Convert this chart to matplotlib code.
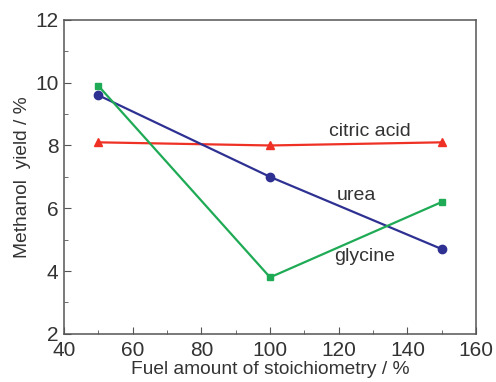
import matplotlib
matplotlib.use("Agg")
import matplotlib.pyplot as plt
from matplotlib.ticker import MultipleLocator

plt.rcParams['font.family'] = ['Liberation Sans', 'DejaVu Sans']

fuel = [50, 100, 150]
citric_acid = [8.1, 8.0, 8.1]
urea = [9.6, 7.0, 4.7]
glycine = [9.9, 3.8, 6.2]

red = '#ee3124'
blue = '#2e3192'
green = '#1faa55'
axis_gray = '#555555'
text_gray = '#333333'

fig = plt.figure(figsize=(4.96, 3.82), dpi=100)
ax = fig.add_axes([0.129, 0.126, 0.831, 0.822])

ax.plot(fuel, citric_acid, color=red, marker='^', markersize=6, linewidth=1.6)
ax.plot(fuel, urea, color=blue, marker='o', markersize=6, linewidth=1.6)
ax.plot(fuel, glycine, color=green, marker='s', markersize=5, linewidth=1.6)

# curve labels
ax.text(129, 8.45, 'citric acid', fontsize=14, color=text_gray, ha='center', va='center')
ax.text(125, 6.4, 'urea', fontsize=14, color=text_gray, ha='center', va='center')
ax.text(127.5, 4.45, 'glycine', fontsize=14, color=text_gray, ha='center', va='center')

ax.set_xlim(40, 160)
ax.set_ylim(2, 12)
ax.xaxis.set_major_locator(MultipleLocator(20))
ax.xaxis.set_minor_locator(MultipleLocator(10))
ax.yaxis.set_major_locator(MultipleLocator(2))
ax.yaxis.set_minor_locator(MultipleLocator(1))
ax.tick_params(which='both', direction='in', color=axis_gray, labelcolor=text_gray,
               labelsize=15)
ax.tick_params(which='major', length=5)
ax.tick_params(which='minor', length=3)
ax.tick_params(axis='x', pad=5)
ax.tick_params(axis='y', pad=4)
for s in ax.spines.values():
    s.set_color(axis_gray)
    s.set_linewidth(1.1)

ax.set_xlabel('Fuel amount of stoichiometry / %', fontsize=13.8, color=text_gray, labelpad=1)
ax.set_ylabel('Methanol  yield / %', fontsize=13.8, color=text_gray, labelpad=3)

fig.savefig('out.png', dpi=100)
